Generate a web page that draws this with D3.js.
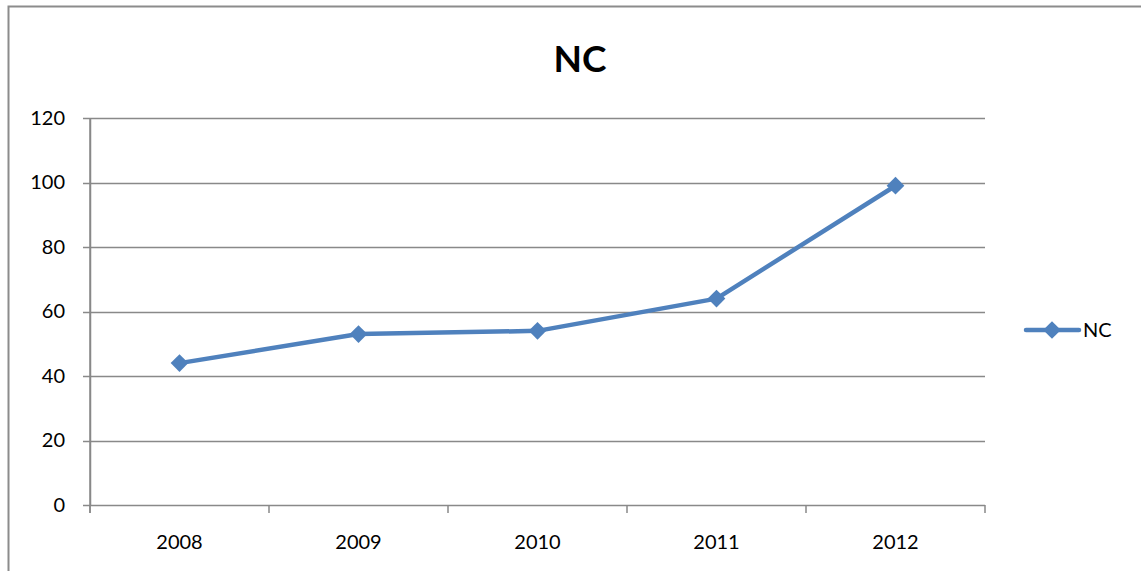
<!DOCTYPE html>
<html>
<head>
<meta charset="utf-8">
<script src="https://cdn.jsdelivr.net/npm/d3@7"></script>
<style>
  body { margin: 0; background: #fff; }
  text { font-family: Lato, "Liberation Sans", sans-serif; }
</style>
</head>
<body>
<div id="chart"></div>
<script>
var years = ["2008", "2009", "2010", "2011", "2012"];
var ncValues = [44, 53, 54, 64, 99];
var yTicks = [0, 20, 40, 60, 80, 100, 120];
var seriesName = "NC";

var w = 1141, h = 571;
var plotL = 90, plotR = 985, plotT = 118, plotB = 505;
var blue = "#4F81BD", grid = "#898989";

var svg = d3.select("#chart").append("svg")
  .attr("width", w).attr("height", h);

// outer chart border (cut off at right / bottom)
svg.append("rect")
  .attr("x", 8.5).attr("y", 6.5)
  .attr("width", w + 20).attr("height", h + 20)
  .attr("fill", "#fff").attr("stroke", "#8c8c8c").attr("stroke-width", 2);

var x = d3.scaleBand().domain(years).range([plotL, plotR]);
var y = d3.scaleLinear().domain([0, 120]).range([plotB, plotT]);

// horizontal grid lines
svg.selectAll("line.grid").data(yTicks).enter().append("line")
  .attr("class", "grid")
  .attr("x1", plotL - 7).attr("x2", plotR)
  .attr("y1", function(d){ return Math.round(y(d)) + 0.5; })
  .attr("y2", function(d){ return Math.round(y(d)) + 0.5; })
  .attr("stroke", grid).attr("stroke-width", 1.5);

var yAxis = d3.axisLeft(y).tickValues(yTicks).tickSize(0).tickPadding(25);
var gy = svg.append("g").attr("transform", "translate(" + plotL + ",0)").call(yAxis);
gy.select(".domain").attr("stroke", grid).attr("stroke-width", 1.5);
gy.selectAll("text").attr("font-size", 20).attr("fill", "#000")
  .style("font-family", "Lato, 'Liberation Sans', sans-serif");

// x axis with ticks at category boundaries
svg.append("line")
  .attr("x1", plotL).attr("x2", plotL).attr("y1", plotT).attr("y2", plotB + 8)
  .attr("stroke", grid).attr("stroke-width", 1.5);
var bounds = years.map(function(d){ return x(d); }).concat([plotR]);
svg.selectAll("line.xtick").data(bounds).enter().append("line")
  .attr("class", "xtick")
  .attr("x1", function(d){ return d; }).attr("x2", function(d){ return d; })
  .attr("y1", plotB).attr("y2", plotB + 8)
  .attr("stroke", grid).attr("stroke-width", 1.5);
svg.selectAll("text.xlab").data(years).enter().append("text")
  .attr("class", "xlab")
  .attr("x", function(d){ return x(d) + x.bandwidth() / 2; })
  .attr("y", 549)
  .attr("text-anchor", "middle").attr("font-size", 20)
  .text(function(d){ return d; });

// title
svg.append("text").attr("x", 580).attr("y", 72)
  .attr("text-anchor", "middle").attr("font-size", 37).attr("font-weight", "bold")
  .text(seriesName);

// series line
var pts = years.map(function(d, i){ return [x(d) + x.bandwidth() / 2, y(ncValues[i])]; });
svg.append("path").datum(pts)
  .attr("d", d3.line())
  .attr("fill", "none").attr("stroke", blue).attr("stroke-width", 4.5)
  .attr("stroke-linejoin", "round");

var diamond = d3.symbol().type(d3.symbolDiamond2).size(200);
svg.selectAll("path.marker").data(pts).enter().append("path")
  .attr("class", "marker")
  .attr("transform", function(d){ return "translate(" + d[0] + "," + d[1] + ")"; })
  .attr("d", diamond).attr("fill", blue);

// legend
var lg = svg.append("g").attr("transform", "translate(1026,330)");
lg.append("line").attr("x1", 0).attr("x2", 53).attr("y1", 0).attr("y2", 0)
  .attr("stroke", blue).attr("stroke-width", 4.5).attr("stroke-linecap", "round");
lg.append("path").attr("transform", "translate(26,0)").attr("d", diamond).attr("fill", blue);
lg.append("text").attr("x", 57).attr("y", 7).attr("font-size", 20).text(seriesName);
</script>
</body>
</html>
